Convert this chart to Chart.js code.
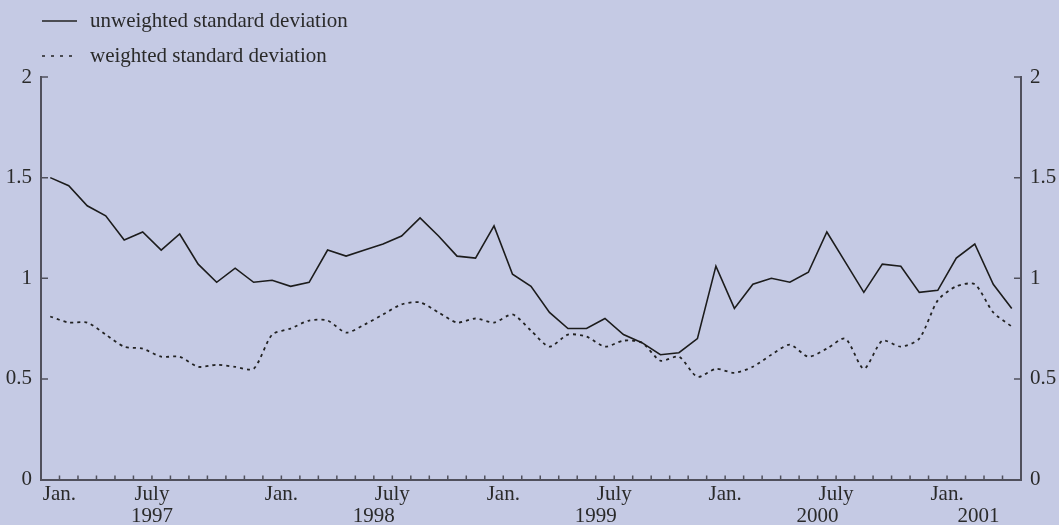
<!DOCTYPE html>
<html>
<head>
<meta charset="utf-8">
<script src="https://cdn.jsdelivr.net/npm/chart.js@4/dist/chart.umd.min.js"></script>
<style>
html,body{margin:0;padding:0;background:#c5cae4;}
#wrap{position:relative;width:1059px;height:525px;overflow:hidden;}
canvas{position:absolute;left:0;top:0;}
.leg{position:absolute;left:42px;height:25px;line-height:25px;font-family:'Liberation Serif','Times New Roman',serif;font-size:21px;color:#2a2a2a;display:flex;align-items:center;white-space:nowrap;}
.leg svg{margin-right:13px;}
</style>
</head>
<body>
<div id="wrap">
<canvas id="c" width="1059" height="525"></canvas>
<div id="legend"></div>
</div>
<script>
// ---- data ----
const periods = [
  '1997-01','1997-02','1997-03','1997-04','1997-05','1997-06','1997-07','1997-08','1997-09','1997-10','1997-11','1997-12',
  '1998-01','1998-02','1998-03','1998-04','1998-05','1998-06','1998-07','1998-08','1998-09','1998-10','1998-11','1998-12',
  '1999-01','1999-02','1999-03','1999-04','1999-05','1999-06','1999-07','1999-08','1999-09','1999-10','1999-11','1999-12',
  '2000-01','2000-02','2000-03','2000-04','2000-05','2000-06','2000-07','2000-08','2000-09','2000-10','2000-11','2000-12',
  '2001-01','2001-02','2001-03','2001-04','2001-05'
];
const seriesNames = ['unweighted standard deviation', 'weighted standard deviation'];
const unweighted = [
  1.50,1.46,1.36,1.31,1.19,1.23,1.14,1.22,1.07,0.98,1.05,0.98,
  0.99,0.96,0.98,1.14,1.11,1.14,1.17,1.21,1.30,1.21,1.11,1.10,
  1.26,1.02,0.96,0.83,0.75,0.75,0.80,0.72,0.68,0.62,0.63,0.70,
  1.06,0.85,0.97,1.00,0.98,1.03,1.23,1.08,0.93,1.07,1.06,0.93,
  0.94,1.10,1.17,0.97,0.85
];
const weighted = [
  0.81,0.78,0.78,0.72,0.66,0.65,0.61,0.61,0.56,0.57,0.56,0.55,
  0.72,0.75,0.79,0.79,0.73,0.77,0.82,0.87,0.88,0.83,0.78,0.80,
  0.78,0.82,0.74,0.66,0.72,0.71,0.66,0.69,0.68,0.59,0.61,0.51,
  0.55,0.53,0.56,0.62,0.67,0.61,0.65,0.70,0.55,0.69,0.66,0.70,
  0.89,0.96,0.97,0.83,0.76
];
const monthTickPeriods = ['1997-01','1997-07','1998-01','1998-07','1999-01','1999-07','2000-01','2000-07','2001-01'];
const monthTickLabels  = ['Jan.','July','Jan.','July','Jan.','July','Jan.','July','Jan.'];
const yearLabels = ['1997','1998','1999','2000','2001'];
const yTickValues = [0, 0.5, 1, 1.5, 2];
const yTickLabels = ['0','0.5','1','1.5','2'];

// ---- styles ----
const FONT = "'Liberation Serif','Times New Roman',serif";
const TEXT = '#2a2a2a';
const AXIS = '#50505c';
const n = periods.length;

// legend (HTML, real text)
const legendStyles = [
  {dash: '', top: 8},
  {dash: '3,6', top: 43}
];
const legendEl = document.getElementById('legend');
seriesNames.forEach((name, i) => {
  const row = document.createElement('div');
  row.className = 'leg';
  row.style.top = legendStyles[i].top + 'px';
  row.innerHTML = '<svg width="35" height="6"><line x1="0" y1="3" x2="35" y2="3" stroke="#222" stroke-width="1.5"' +
    (legendStyles[i].dash ? ' stroke-dasharray="' + legendStyles[i].dash + '"' : '') + '/></svg>';
  const span = document.createElement('span');
  span.textContent = name;
  row.appendChild(span);
  legendEl.appendChild(row);
});

// label positions on month-boundary axis
const monthTickPos = monthTickPeriods.map((p, i) => {
  const idx = periods.indexOf(p);
  return i === 1 ? idx : idx + 1;
});
const yearTickPos = yearLabels.map(y => {
  const idx = periods.indexOf(y + '-07');
  return idx >= 0 ? idx : n - 2.3;
});

const innerTicks = {
  id: 'innerTicks',
  afterDraw(chart) {
    const {ctx, chartArea: {left, right, bottom}, scales: {x, y}} = chart;
    ctx.save();
    ctx.strokeStyle = AXIS;
    ctx.lineWidth = 1.5;
    ctx.beginPath();
    yTickValues.forEach(v => {
      const py = y.getPixelForValue(v);
      if (v !== 0) {
        ctx.moveTo(left, py); ctx.lineTo(left + 7, py);
        ctx.moveTo(right, py); ctx.lineTo(right - 7, py);
      }
    });
    for (let i = 0; i <= n; i++) {
      const px = x.getPixelForValue(i);
      ctx.moveTo(px, bottom); ctx.lineTo(px, bottom - 4);
    }
    ctx.stroke();
    ctx.restore();
  }
};

const tickFont = {family: FONT, size: 21};

new Chart(document.getElementById('c'), {
  type: 'line',
  data: {
    datasets: [
      {
        label: seriesNames[0],
        data: unweighted.map((v, i) => ({x: i + 0.5, y: v})),
        borderColor: '#1c1c1c',
        borderWidth: 1.6,
        pointRadius: 0,
        tension: 0,
        fill: false
      },
      {
        label: seriesNames[1],
        data: weighted.map((v, i) => ({x: i + 0.5, y: v})),
        borderColor: '#222222',
        borderWidth: 1.8,
        borderDash: [3, 4],
        pointRadius: 0,
        tension: 0.25,
        fill: false
      }
    ]
  },
  options: {
    responsive: false,
    animation: false,
    devicePixelRatio: 1,
    layout: {padding: {top: 77, left: 0, right: 0, bottom: 0}},
    plugins: {legend: {display: false}, tooltip: {enabled: false}},
    scales: {
      x: {
        type: 'linear', position: 'bottom', min: 0, max: n,
        grid: {display: false, drawTicks: false},
        border: {display: true, color: AXIS, width: 2},
        afterBuildTicks: s => { s.ticks = monthTickPos.map(v => ({value: v})); },
        afterFit: s => { s.height = 27; },
        ticks: {
          autoSkip: false, maxRotation: 0, minRotation: 0, padding: 2.4,
          font: tickFont, color: TEXT,
          callback: (v, i) => monthTickLabels[i]
        }
      },
      x2: {
        type: 'linear', position: 'bottom', min: 0, max: n,
        grid: {display: false, drawTicks: false},
        border: {display: false},
        afterBuildTicks: s => { s.ticks = yearTickPos.map(v => ({value: v})); },
        afterFit: s => { s.height = 18.5; },
        ticks: {
          autoSkip: false, maxRotation: 0, minRotation: 0, padding: -3.1,
          font: tickFont, color: TEXT,
          callback: (v, i) => yearLabels[i]
        }
      },
      y: {
        type: 'linear', position: 'left', min: 0, max: 2,
        grid: {display: false, drawTicks: false},
        border: {display: true, color: AXIS, width: 2},
        afterBuildTicks: s => { s.ticks = yTickValues.map(v => ({value: v})); },
        afterFit: s => { s.width = 41; },
        ticks: {padding: 9, font: tickFont, color: TEXT, callback: (v, i) => yTickLabels[i]}
      },
      y2: {
        type: 'linear', position: 'right', min: 0, max: 2,
        grid: {display: false, drawTicks: false},
        border: {display: true, color: AXIS, width: 2},
        afterBuildTicks: s => { s.ticks = yTickValues.map(v => ({value: v})); },
        afterFit: s => { s.width = 38; },
        ticks: {padding: 9, font: tickFont, color: TEXT, callback: (v, i) => yTickLabels[i]}
      }
    }
  },
  plugins: [innerTicks]
});
</script>
</body>
</html>
